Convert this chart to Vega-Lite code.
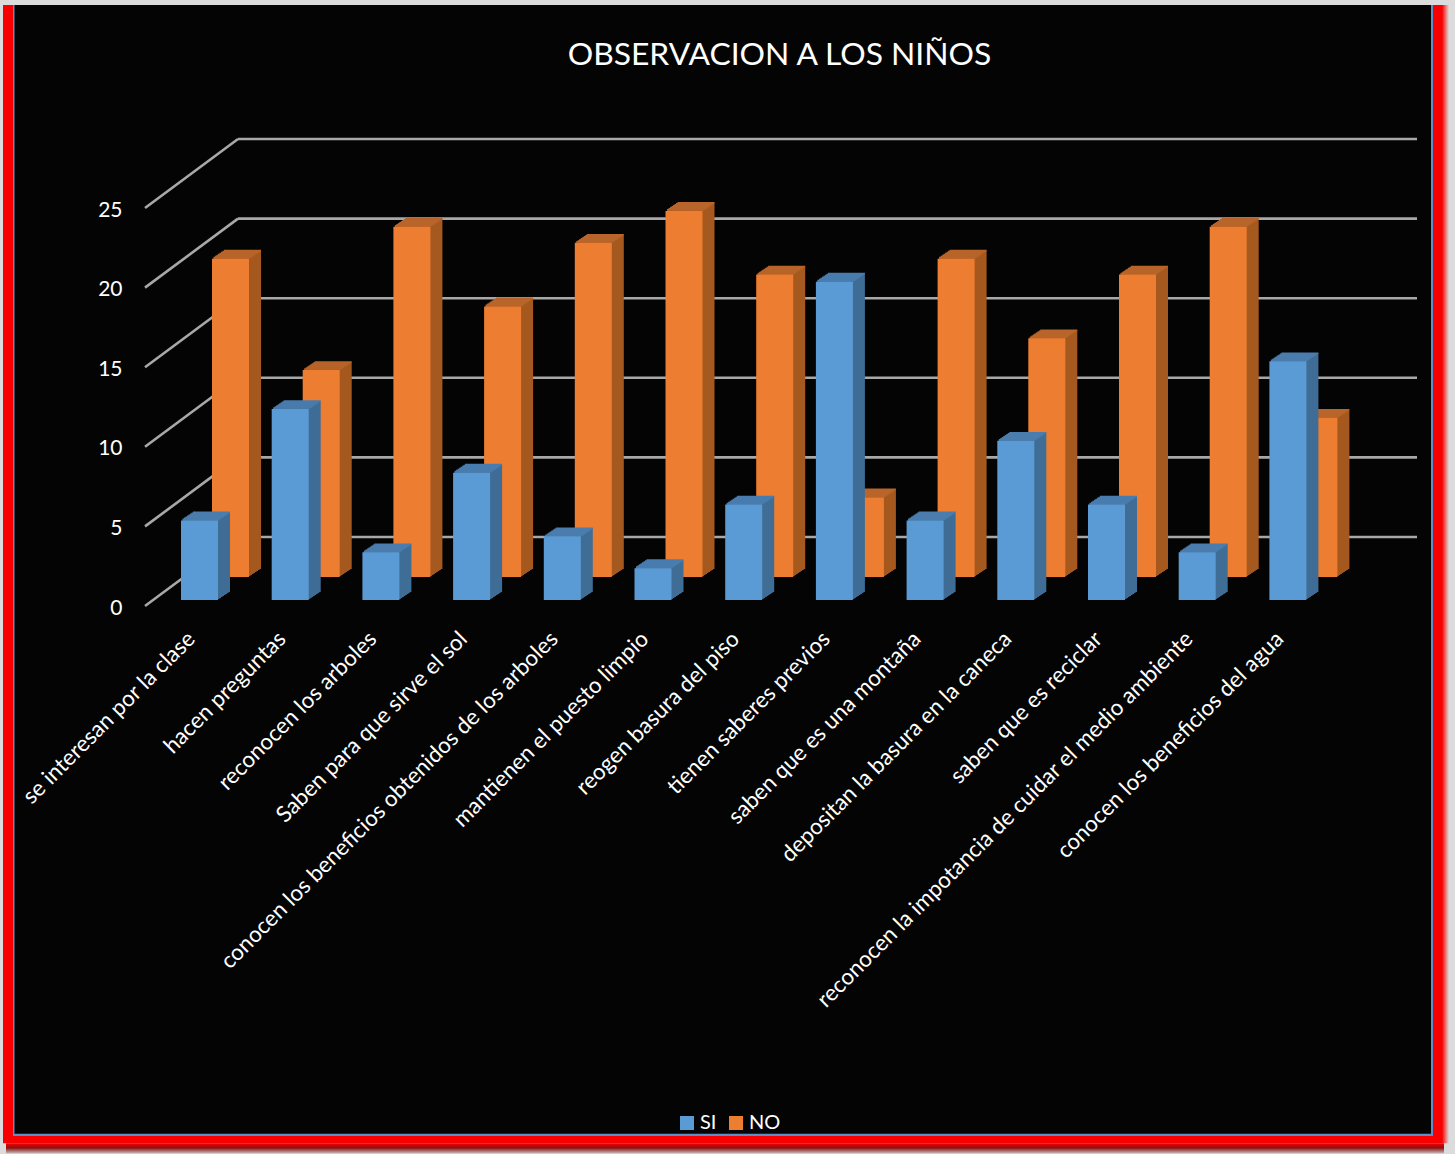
{"$schema":"https://vega.github.io/schema/vega-lite/v6.json","width":1455,"height":606,"padding":{"left":0,"top":0,"right":0,"bottom":548},"autosize":"none","background":"#dcdcdc",
"title":{"text":"OBSERVACION A LOS NIÑOS","color":"#ffffff","font":"Lato","fontSize":31.8,"fontWeight":"normal","anchor":"middle","frame":"group","dx":52,"dy":32,"baseline":"middle","offset":-55},
"config":{"view":{"stroke":null},"font":"Lato"},
"layer":[
{"layer":[
{"data":{"values":[{"part":"marco"}]},"layer":[
{"mark":{"type":"rect","opacity":1,"color":{"gradient":"linear","x1":0,"y1":0,"x2":0,"y2":1,"stops":[{"offset":0,"color":"#f80000"},{"offset":0.45,"color":"#8c1010"},{"offset":1,"color":"#c8c0c0"}]}},"encoding":{"x":{"datum":6,"type":"quantitative","scale":{"domain":[0,1455],"range":[0,1455],"nice":false,"zero":false},"axis":null},"x2":{"datum":1444},"y":{"datum":-33.75,"type":"quantitative","scale":{"domain":[0,38.07],"nice":false,"zero":false},"axis":{"values":[0,5,10,15,20,25],"orient":"left","offset":-122,"zindex":1,"domain":false,"ticks":false,"grid":false,"title":null,"labelColor":"#ffffff","labelFont":"Lato","labelFontSize":21,"labelPadding":0,"labelOffset":2}},"y2":{"datum":-34.4}}},
{"mark":{"type":"rect","opacity":1,"color":{"gradient":"linear","x1":0,"y1":0,"x2":1,"y2":0,"stops":[{"offset":0,"color":"#f80000"},{"offset":1,"color":"#dcdcdc"}]}},"encoding":{"x":{"datum":1442,"type":"quantitative"},"x2":{"datum":1449},"y":{"datum":37.75,"type":"quantitative"},"y2":{"datum":-33.75}}},
{"mark":{"type":"rect","color":"#f80000","opacity":1},"encoding":{"x":{"datum":3,"type":"quantitative"},"x2":{"datum":1442},"y":{"datum":37.75,"type":"quantitative"},"y2":{"datum":-33.75}}},
{"mark":{"type":"rect","color":"#5b8fc7","opacity":1},"encoding":{"x":{"datum":13,"type":"quantitative"},"x2":{"datum":1433},"y":{"datum":37.75,"type":"quantitative"},"y2":{"datum":-33.3}}},
{"mark":{"type":"rect","color":"#040404","opacity":1},"encoding":{"x":{"datum":14.5,"type":"quantitative"},"x2":{"datum":1431},"y":{"datum":37.75,"type":"quantitative"},"y2":{"datum":-33.15}}}
]},
{"data":{"values":[{"valor":0},{"valor":5},{"valor":10},{"valor":15},{"valor":20},{"valor":25}]},"layer":[
{"mark":{"type":"rule","color":"#a8a8a8","strokeWidth":2.6,"y2Offset":-69},"encoding":{"x":{"datum":145,"type":"quantitative"},"x2":{"datum":238},"y":{"field":"valor","type":"quantitative"},"y2":{"field":"valor"}}},
{"mark":{"type":"rule","color":"#a8a8a8","strokeWidth":2.6,"yOffset":-69,"y2Offset":-69},"encoding":{"x":{"datum":238,"type":"quantitative"},"x2":{"datum":1417},"y":{"field":"valor","type":"quantitative"},"y2":{"field":"valor"}}}
]}
]},
{"data":{"values":[
{"categoria":"se interesan por la clase","serie":"SI","valor":5},{"categoria":"se interesan por la clase","serie":"NO","valor":20},
{"categoria":"hacen preguntas","serie":"SI","valor":12},{"categoria":"hacen preguntas","serie":"NO","valor":13},
{"categoria":"reconocen los arboles","serie":"SI","valor":3},{"categoria":"reconocen los arboles","serie":"NO","valor":22},
{"categoria":"Saben para que sirve el sol","serie":"SI","valor":8},{"categoria":"Saben para que sirve el sol","serie":"NO","valor":17},
{"categoria":"conocen los beneficios obtenidos de los arboles","serie":"SI","valor":4},{"categoria":"conocen los beneficios obtenidos de los arboles","serie":"NO","valor":21},
{"categoria":"mantienen el puesto limpio","serie":"SI","valor":2},{"categoria":"mantienen el puesto limpio","serie":"NO","valor":23},
{"categoria":"reogen basura del piso","serie":"SI","valor":6},{"categoria":"reogen basura del piso","serie":"NO","valor":19},
{"categoria":"tienen saberes previos","serie":"SI","valor":20},{"categoria":"tienen saberes previos","serie":"NO","valor":5},
{"categoria":"saben que es una montaña","serie":"SI","valor":5},{"categoria":"saben que es una montaña","serie":"NO","valor":20},
{"categoria":"depositan la basura en la caneca","serie":"SI","valor":10},{"categoria":"depositan la basura en la caneca","serie":"NO","valor":15},
{"categoria":"saben que es reciclar","serie":"SI","valor":6},{"categoria":"saben que es reciclar","serie":"NO","valor":19},
{"categoria":"reconocen la impotancia de cuidar el medio ambiente","serie":"SI","valor":3},{"categoria":"reconocen la impotancia de cuidar el medio ambiente","serie":"NO","valor":22},
{"categoria":"conocen los beneficios del agua","serie":"SI","valor":15},{"categoria":"conocen los beneficios del agua","serie":"NO","valor":10}
]},
"encoding":{"x":{"field":"categoria","type":"nominal","sort":null,"scale":{"type":"band","range":[181,1306.4],"paddingInner":0.592,"paddingOuter":0},"axis":{"orient":"bottom","zindex":1,"title":null,"domain":false,"ticks":false,"grid":false,"labelAngle":-45,"labelAlign":"right","labelBaseline":"middle","labelColor":"#ffffff","labelFont":"Lato","labelFontSize":22.4,"labelPadding":29,"labelOffset":-8,"labelLimit":0,"labelOverlap":false}},"y":{"field":"valor","type":"quantitative","stack":null}},
"layer":[
{"transform":[{"filter":"datum.serie==='NO'"}],"layer":[
{"mark":{"type":"bar","color":"#a5591f","xOffset":43,"yOffset":-37,"y2Offset":-37},"encoding":{"y2":{"datum":0}}},
{"mark":{"type":"bar","color":"#a5591f","xOffset":41.5,"yOffset":-36,"y2Offset":-36},"encoding":{"y2":{"datum":0}}},
{"mark":{"type":"bar","color":"#a5591f","xOffset":40,"yOffset":-35,"y2Offset":-35},"encoding":{"y2":{"datum":0}}},
{"mark":{"type":"bar","color":"#a5591f","xOffset":38.5,"yOffset":-34,"y2Offset":-34},"encoding":{"y2":{"datum":0}}},
{"mark":{"type":"bar","color":"#a5591f","xOffset":37,"yOffset":-33,"y2Offset":-33},"encoding":{"y2":{"datum":0}}},
{"mark":{"type":"bar","color":"#a5591f","xOffset":35.5,"yOffset":-32,"y2Offset":-32},"encoding":{"y2":{"datum":0}}},
{"mark":{"type":"bar","color":"#a5591f","xOffset":34,"yOffset":-31,"y2Offset":-31},"encoding":{"y2":{"datum":0}}},
{"mark":{"type":"bar","color":"#a5591f","xOffset":32.5,"yOffset":-30,"y2Offset":-30},"encoding":{"y2":{"datum":0}}},
{"mark":{"type":"tick","orient":"horizontal","color":"#b8642a","opacity":1,"size":37,"thickness":1.6,"xOffset":43,"yOffset":-37}},
{"mark":{"type":"tick","orient":"horizontal","color":"#b8642a","opacity":1,"size":37,"thickness":1.6,"xOffset":41.5,"yOffset":-36}},
{"mark":{"type":"tick","orient":"horizontal","color":"#b8642a","opacity":1,"size":37,"thickness":1.6,"xOffset":40,"yOffset":-35}},
{"mark":{"type":"tick","orient":"horizontal","color":"#b8642a","opacity":1,"size":37,"thickness":1.6,"xOffset":38.5,"yOffset":-34}},
{"mark":{"type":"tick","orient":"horizontal","color":"#b8642a","opacity":1,"size":37,"thickness":1.6,"xOffset":37,"yOffset":-33}},
{"mark":{"type":"tick","orient":"horizontal","color":"#b8642a","opacity":1,"size":37,"thickness":1.6,"xOffset":35.5,"yOffset":-32}},
{"mark":{"type":"tick","orient":"horizontal","color":"#b8642a","opacity":1,"size":37,"thickness":1.6,"xOffset":34,"yOffset":-31}},
{"mark":{"type":"tick","orient":"horizontal","color":"#b8642a","opacity":1,"size":37,"thickness":1.6,"xOffset":32.5,"yOffset":-30}},
{"mark":{"type":"bar","xOffset":31,"yOffset":-29,"y2Offset":-29,"opacity":1},"encoding":{"y2":{"datum":0},"color":{"field":"serie","type":"nominal","sort":null,"scale":{"domain":["SI","NO"],"range":["#5b9bd5","#ed7d31"]},"legend":{"orient":"none","legendX":677,"legendY":1113,"direction":"horizontal","columns":2,"title":null,"symbolType":"square","symbolSize":196,"symbolStrokeWidth":0,"symbolOpacity":1,"labelColor":"#ffffff","labelFont":"Lato","labelFontSize":20,"labelOffset":3,"columnPadding":9}}}}
]},
{"transform":[{"filter":"datum.serie==='SI'"}],"layer":[
{"mark":{"type":"bar","color":"#3f6d96","xOffset":12,"yOffset":-14,"y2Offset":-14},"encoding":{"y2":{"datum":0}}},
{"mark":{"type":"bar","color":"#3f6d96","xOffset":10.5,"yOffset":-13,"y2Offset":-13},"encoding":{"y2":{"datum":0}}},
{"mark":{"type":"bar","color":"#3f6d96","xOffset":9,"yOffset":-12,"y2Offset":-12},"encoding":{"y2":{"datum":0}}},
{"mark":{"type":"bar","color":"#3f6d96","xOffset":7.5,"yOffset":-11,"y2Offset":-11},"encoding":{"y2":{"datum":0}}},
{"mark":{"type":"bar","color":"#3f6d96","xOffset":6,"yOffset":-10,"y2Offset":-10},"encoding":{"y2":{"datum":0}}},
{"mark":{"type":"bar","color":"#3f6d96","xOffset":4.5,"yOffset":-9,"y2Offset":-9},"encoding":{"y2":{"datum":0}}},
{"mark":{"type":"bar","color":"#3f6d96","xOffset":3,"yOffset":-8,"y2Offset":-8},"encoding":{"y2":{"datum":0}}},
{"mark":{"type":"bar","color":"#3f6d96","xOffset":1.5,"yOffset":-7,"y2Offset":-7},"encoding":{"y2":{"datum":0}}},
{"mark":{"type":"tick","orient":"horizontal","color":"#4a7cae","opacity":1,"size":37,"thickness":1.6,"xOffset":12,"yOffset":-14}},
{"mark":{"type":"tick","orient":"horizontal","color":"#4a7cae","opacity":1,"size":37,"thickness":1.6,"xOffset":10.5,"yOffset":-13}},
{"mark":{"type":"tick","orient":"horizontal","color":"#4a7cae","opacity":1,"size":37,"thickness":1.6,"xOffset":9,"yOffset":-12}},
{"mark":{"type":"tick","orient":"horizontal","color":"#4a7cae","opacity":1,"size":37,"thickness":1.6,"xOffset":7.5,"yOffset":-11}},
{"mark":{"type":"tick","orient":"horizontal","color":"#4a7cae","opacity":1,"size":37,"thickness":1.6,"xOffset":6,"yOffset":-10}},
{"mark":{"type":"tick","orient":"horizontal","color":"#4a7cae","opacity":1,"size":37,"thickness":1.6,"xOffset":4.5,"yOffset":-9}},
{"mark":{"type":"tick","orient":"horizontal","color":"#4a7cae","opacity":1,"size":37,"thickness":1.6,"xOffset":3,"yOffset":-8}},
{"mark":{"type":"tick","orient":"horizontal","color":"#4a7cae","opacity":1,"size":37,"thickness":1.6,"xOffset":1.5,"yOffset":-7}},
{"mark":{"type":"bar","xOffset":0,"yOffset":-6,"y2Offset":-6,"opacity":1},"encoding":{"y2":{"datum":0},"color":{"field":"serie","type":"nominal","sort":null}}}
]}
]}
],
"resolve":{"scale":{"x":"independent"}}}
